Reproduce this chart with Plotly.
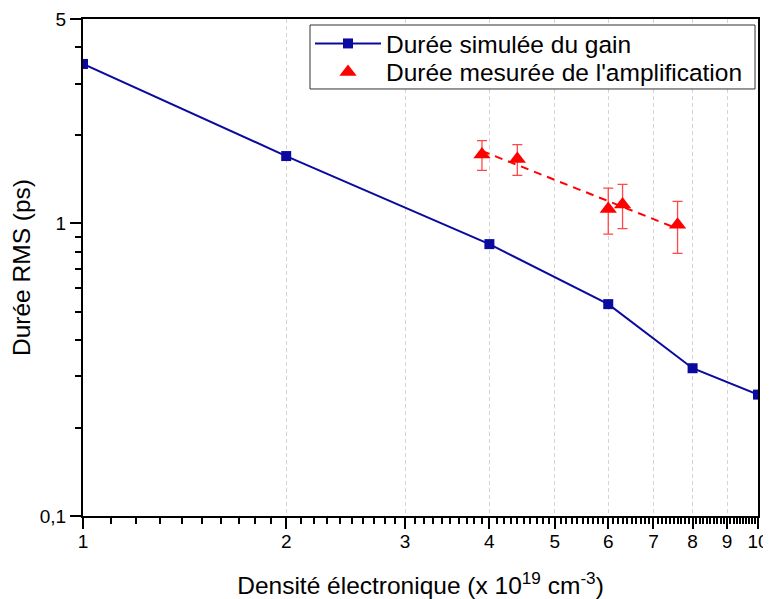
import plotly.graph_objects as go

# Simulated gain duration
sim_x = [1, 2, 4, 6, 8, 10]
sim_y = [3.51, 1.70, 0.85, 0.53, 0.32, 0.26]

# Measured amplification duration
mes_x = [3.9, 4.4, 6.0, 6.3, 7.6]
mes_y = [1.72, 1.66, 1.12, 1.16, 0.99]
mes_err = [0.20, 0.20, 0.20, 0.20, 0.20]

# Fitted trend of measurements (dashed)
fit_x = [3.9, 7.6]
fit_y = [1.77, 0.96]

x_ticks = [1, 2, 3, 4, 5, 6, 7, 8, 9, 10]
x_ticktext = ["1", "2", "3", "4", "5", "6", "7", "8", "9", "10"]
y_ticks = [0.1, 1, 5]
y_ticktext = ["0,1", "1", "5"]

x_minor = [round(d + k / 10, 2) for d in range(1, 10) for k in range(1, 10)]
y_minor = [0.2, 0.3, 0.4, 0.5, 0.6, 0.7, 0.8, 0.9, 2, 3, 4]

FONT = "Arial, Liberation Sans, sans-serif"
BLUE = "#0a0aa0"
RED = "#ff0000"

fig = go.Figure()

fig.add_trace(go.Scatter(
    x=fit_x, y=fit_y, mode="lines",
    line=dict(color=RED, width=2, dash="8px,6px"),
    showlegend=False, hoverinfo="skip",
))

fig.add_trace(go.Scatter(
    x=sim_x, y=sim_y, mode="lines+markers",
    name="Durée simulée du gain",
    line=dict(color=BLUE, width=2),
    marker=dict(symbol="square", size=10, color=BLUE),
    legend="legend",
))

fig.add_trace(go.Scatter(
    x=mes_x, y=mes_y, mode="markers",
    name="Durée mesurée de l'amplification",
    marker=dict(symbol="triangle-up", size=15, color=RED),
    error_y=dict(type="data", array=mes_err, visible=True,
                 color="rgba(255,40,40,0.85)", thickness=1.3, width=5),
    legend="legend2",
))

LEG_FONT = dict(family=FONT, size=24.5, color="black")

# page body has an 8px default margin: figure is offset by 8px
fig.update_layout(
    width=763, height=591,
    margin=dict(l=75, r=13, t=11, b=83, autoexpand=False),
    paper_bgcolor="white", plot_bgcolor="white",
    font=dict(family=FONT, size=19, color="black"),
    legend=dict(
        x=0.3363, y=0.9507, xanchor="left", yanchor="middle",
        bgcolor="rgba(0,0,0,0)", borderwidth=0,
        font=LEG_FONT, itemwidth=66,
    ),
    legend2=dict(
        x=0.3363, y=0.8934, xanchor="left", yanchor="middle",
        bgcolor="rgba(0,0,0,0)", borderwidth=0,
        font=LEG_FONT, itemwidth=66,
    ),
    showlegend=True,
    shapes=[dict(
        type="rect", xref="paper", yref="paper",
        x0=0.3363, x1=0.9956, y0=0.8592, y1=0.9879,
        line=dict(color="#333333", width=1), fillcolor="white", layer="above",
    )],
)

fig.update_xaxes(
    type="log", range=[0, 1], automargin=False,
    tickvals=x_ticks, ticktext=x_ticktext,
    ticks="outside", ticklen=11, tickwidth=1.5, tickcolor="black",
    ticklabelstandoff=-4,
    showline=True, linecolor="black", linewidth=2, mirror=True,
    showgrid=True, gridcolor="#d4d4d4", gridwidth=1, griddash="4px,3px",
    zeroline=False,
    tickfont=dict(family=FONT, size=19, color="black"),
    minor=dict(tickvals=x_minor, ticks="outside", ticklen=6, tickwidth=1.5,
               tickcolor="black", showgrid=False),
    title=dict(text="Densité électronique (x 10<sup>19</sup> cm<sup>-3</sup>)",
               font=dict(family=FONT, size=24.5, color="black"), standoff=26),
)

fig.update_yaxes(
    type="log", range=[-1, 0.69897], automargin=False,
    tickvals=y_ticks, ticktext=y_ticktext,
    ticks="outside", ticklen=11, tickwidth=1.5, tickcolor="black",
    showline=True, linecolor="black", linewidth=2, mirror=True,
    showgrid=False, zeroline=False,
    tickfont=dict(family=FONT, size=19, color="black"),
    minor=dict(tickvals=y_minor, ticks="outside", ticklen=6, tickwidth=1.5,
               tickcolor="black", showgrid=False),
    title=dict(text="Durée RMS (ps)",
               font=dict(family=FONT, size=24.5, color="black"), standoff=5),
)

fig.write_html("out.html")
